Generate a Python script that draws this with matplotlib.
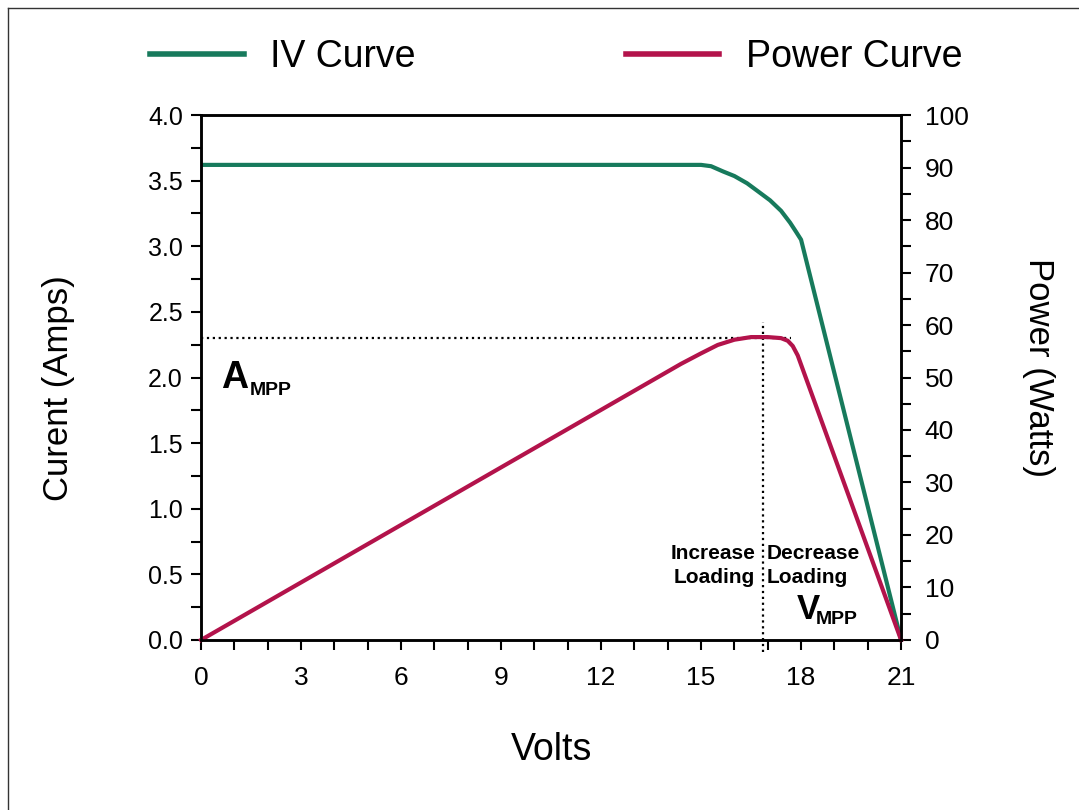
import matplotlib.pyplot as plt
from matplotlib.lines import Line2D
from matplotlib.ticker import MultipleLocator

# IV curve (current vs voltage)
iv_volts = [0, 15.0, 15.3, 15.66, 16.0, 16.38, 16.7, 17.07, 17.4, 17.67, 17.85, 18.0, 21.0]
iv_amps = [3.62, 3.62, 3.61, 3.57, 3.535, 3.48, 3.42, 3.35, 3.27, 3.18, 3.11, 3.05, 0.0]

# power curve (watts vs voltage)
pw_volts = [0, 14.4, 15.0, 15.5, 16.0, 16.5, 17.0, 17.4, 17.6, 17.75, 17.9, 18.06, 21.0]
pw_watts = [0, 52.6, 54.6, 56.2, 57.2, 57.7, 57.7, 57.5, 57.0, 56.0, 54.2, 51.4, 0.0]

# maximum power point markers
a_mpp = 2.3
v_mpp = 16.85

green = '#177a5c'
red = '#b3134b'
sans = ['Liberation Sans', 'DejaVu Sans']

fig = plt.figure(figsize=(10.79, 8.10), dpi=100)
ax = fig.add_axes([0.1863, 0.2099, 0.6488, 0.6481])
ax2 = ax.twinx()

ax.plot(iv_volts, iv_amps, color=green, lw=3, solid_joinstyle='round')
ax2.plot(pw_volts, pw_watts, color=red, lw=3, solid_joinstyle='round', clip_on=False)

# dotted guide lines
ax.plot([0, 17.7], [a_mpp, a_mpp], color='black', ls=':', lw=1.6)
ax.plot([v_mpp, v_mpp], [-0.09, 2.42], color='black', ls=':', lw=1.6, clip_on=False)

ax.set_xlim(0, 21)
ax.set_ylim(0, 4)
ax2.set_ylim(0, 100)

ax.xaxis.set_major_locator(MultipleLocator(3))
ax.xaxis.set_minor_locator(MultipleLocator(1))
ax.yaxis.set_major_locator(MultipleLocator(0.5))
ax.yaxis.set_minor_locator(MultipleLocator(0.25))
ax2.yaxis.set_major_locator(MultipleLocator(10))
ax2.yaxis.set_minor_locator(MultipleLocator(5))
ax.yaxis.set_major_formatter('{x:.1f}')

for a in (ax, ax2):
    for s in a.spines.values():
        s.set_linewidth(1.8)
    a.tick_params(which='both', direction='out', length=7, width=1.5)

ax.tick_params(axis='x', pad=12)
ax.tick_params(axis='y', pad=6)
ax2.tick_params(axis='y', pad=10)
for lbl in ax.get_xticklabels():
    lbl.set_family(sans)
    lbl.set_fontsize(19)
for lbl in ax.get_yticklabels():
    lbl.set_family(sans)
    lbl.set_fontsize(18)
for lbl in ax2.get_yticklabels():
    lbl.set_family(sans)
    lbl.set_fontsize(19)

ax.set_xlabel('Volts', family=sans, fontsize=27)
ax.set_ylabel('Curent (Amps)', family=sans, fontsize=25)
ax2.set_ylabel('Power (Watts)', family=sans, fontsize=25, rotation=270)
ax.xaxis.set_label_coords(0.5, -0.175)
ax.yaxis.set_label_coords(-0.18, 0.48)
ax2.yaxis.set_label_coords(1.22, 0.52)

# annotations
ax.text(0.6, 1.92, 'A', family=sans, weight='bold', fontsize=27, va='baseline')
ax.text(1.47, 1.87, 'MPP', family=sans, weight='bold', fontsize=14, va='baseline')
ax.text(17.88, 0.16, 'V', family=sans, weight='bold', fontsize=25, va='baseline')
ax.text(18.45, 0.12, 'MPP', family=sans, weight='bold', fontsize=14, va='baseline')
ax.text(16.62, 0.62, 'Increase', family=sans, weight='bold', fontsize=15, ha='right', va='baseline')
ax.text(16.62, 0.434, 'Loading', family=sans, weight='bold', fontsize=15, ha='right', va='baseline')
ax.text(16.98, 0.62, 'Decrease', family=sans, weight='bold', fontsize=15, ha='left', va='baseline')
ax.text(16.98, 0.434, 'Loading', family=sans, weight='bold', fontsize=15, ha='left', va='baseline')

# legend on top
handles = [Line2D([], [], color=green, lw=4), Line2D([], [], color=red, lw=4)]
fig.legend(handles, ['IV Curve', 'Power Curve'], loc='center left',
           bbox_to_anchor=(150 / 1079, 1 - 57 / 810), ncol=2, frameon=False,
           prop={'family': sans, 'size': 27}, handlelength=2.5,
           handletextpad=0.7, columnspacing=5.6, borderpad=0, borderaxespad=0)

# thin frame around the picture
fig.add_artist(Line2D([8 / 1079, 8 / 1079], [0, 1 - 8 / 810], color='#333333', lw=1))
fig.add_artist(Line2D([8 / 1079, 1], [1 - 8 / 810, 1 - 8 / 810], color='#333333', lw=1))

fig.savefig('out.png', dpi=100)
